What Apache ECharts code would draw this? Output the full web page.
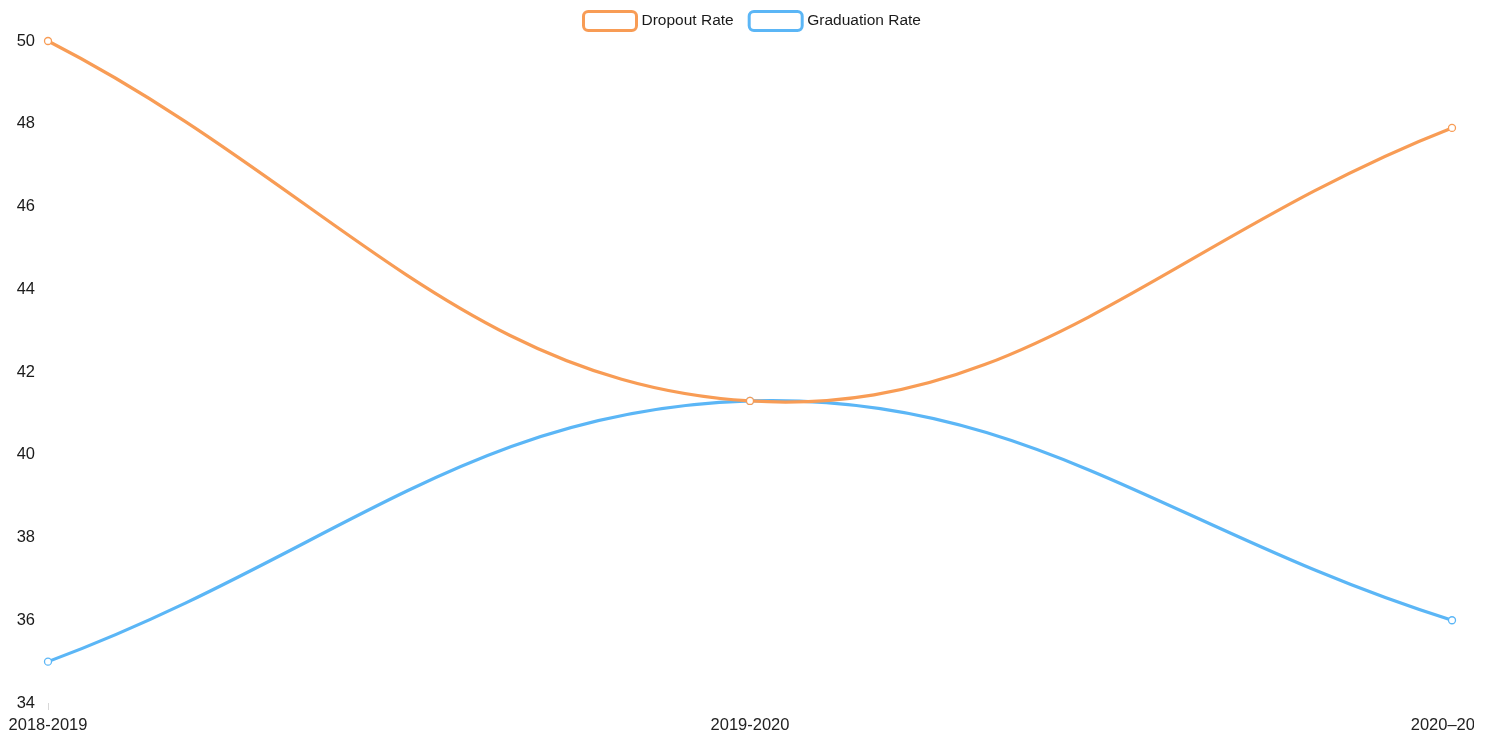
<!DOCTYPE html>
<html>
<head>
<meta charset="utf-8">
<script src="https://cdn.jsdelivr.net/npm/echarts@6/dist/echarts.min.js"></script>
<style>
html,body{margin:0;padding:0;background:#fff;}
#wrap{width:1492px;height:740px;overflow:hidden;background:#fff;}
#chart{width:1474px;height:740px;}
</style>
</head>
<body>
<div id="wrap"><div id="chart"></div></div>
<script>
const categories = ['2018-2019', '2019-2020', '2020–2021'];
const dropoutRate = [50, 41.3, 47.9];
const graduationRate = [35, 41.3, 36];
const yTicks = { min: 34, max: 50, interval: 2 };

const FONT = 'Liberation Sans, Arial, sans-serif';
const ORANGE = '#F89C55';
const BLUE = '#5BB6F6';
const TENSION = 0.4;

// cardinal-style spline through the points, positions obtained from the chart's own scales
function makeRender(values, color) {
  return function (params, api) {
    const i = params.dataIndex;
    const pts = values.map(function (v, k) { return api.coord([k, v]); });
    function cps(k) {
      const prev = pts[k - 1] || pts[k], cur = pts[k], next = pts[k + 1] || pts[k];
      const d01 = Math.hypot(cur[0] - prev[0], cur[1] - prev[1]);
      const d12 = Math.hypot(next[0] - cur[0], next[1] - cur[1]);
      let s01 = d01 / (d01 + d12), s12 = d12 / (d01 + d12);
      if (isNaN(s01)) s01 = 0;
      if (isNaN(s12)) s12 = 0;
      const fa = TENSION * s01, fb = TENSION * s12;
      return [
        [cur[0] - fa * (next[0] - prev[0]), cur[1] - fa * (next[1] - prev[1])],
        [cur[0] + fb * (next[0] - prev[0]), cur[1] + fb * (next[1] - prev[1])]
      ];
    }
    const children = [];
    if (i < pts.length - 1) {
      const a = cps(i)[1], b = cps(i + 1)[0];
      children.push({
        type: 'bezierCurve',
        z2: 1,
        shape: { x1: pts[i][0], y1: pts[i][1], x2: pts[i + 1][0], y2: pts[i + 1][1], cpx1: a[0], cpy1: a[1], cpx2: b[0], cpy2: b[1] },
        style: { stroke: color, lineWidth: 3.2, fill: null, lineCap: 'round' }
      });
    }
    children.push({
      type: 'circle',
      z2: 2,
      shape: { cx: pts[i][0], cy: pts[i][1], r: 3.5 },
      style: { fill: '#fff', stroke: color, lineWidth: 1.3 }
    });
    return { type: 'group', children: children };
  };
}

const chart = echarts.init(document.getElementById('chart'));
chart.setOption({
  animation: false,
  backgroundColor: '#fff',
  legend: {
    top: 5,
    left: 577,
    itemWidth: 53,
    itemHeight: 19,
    itemGap: 14,
    icon: 'roundRect',
    textStyle: { fontFamily: FONT, fontSize: 15.5, color: '#1a1a1a' },
    data: [
      { name: 'Dropout Rate', itemStyle: { color: '#fff', borderColor: ORANGE, borderWidth: 3 } },
      { name: 'Graduation Rate', itemStyle: { color: '#fff', borderColor: BLUE, borderWidth: 3 } }
    ]
  },
  grid: { left: 48, right: 22, top: 41, bottom: 37, containLabel: false, outerBoundsMode: 'none' },
  xAxis: {
    type: 'category',
    data: categories,
    boundaryGap: false,
    axisLine: { show: false },
    axisTick: { show: true, alignWithLabel: true, length: 7, interval: function (i) { return i === 0; }, lineStyle: { color: '#d8d8d8' } },
    axisLabel: { fontFamily: FONT, fontSize: 16.5, color: '#222', margin: 14, interval: 0 },
    splitLine: { show: false }
  },
  yAxis: {
    type: 'value',
    min: yTicks.min,
    max: yTicks.max,
    interval: yTicks.interval,
    axisLine: { show: false },
    axisTick: { show: false },
    splitLine: { show: false },
    axisLabel: { fontFamily: FONT, fontSize: 16.5, color: '#1a1a1a', margin: 13 }
  },
  series: [
    {
      name: 'Dropout Rate',
      type: 'custom',
      z: 3,
      clip: false,
      itemStyle: { color: ORANGE },
      encode: { x: 0, y: 1 },
      data: dropoutRate.map(function (v, k) { return [k, v]; }),
      renderItem: makeRender(dropoutRate, ORANGE)
    },
    {
      name: 'Graduation Rate',
      type: 'custom',
      z: 2,
      clip: false,
      itemStyle: { color: BLUE },
      encode: { x: 0, y: 1 },
      data: graduationRate.map(function (v, k) { return [k, v]; }),
      renderItem: makeRender(graduationRate, BLUE)
    }
  ]
});
</script>
</body>
</html>
